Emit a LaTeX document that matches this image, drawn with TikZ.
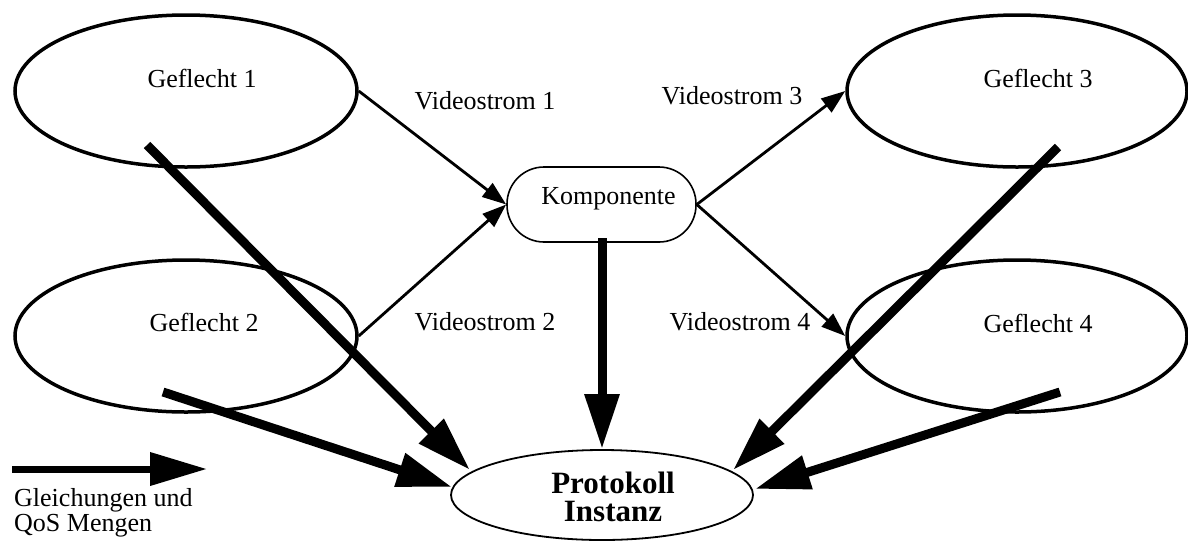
\documentclass[tikz,border=0pt]{standalone}
\usepackage{fontspec}
\setmainfont{Liberation Serif}
\usetikzlibrary{arrows.meta,shapes.geometric}
\begin{document}
\begin{tikzpicture}[x=1pt,y=-1pt,
  geflecht/.style={draw,ellipse,line width=3.5pt,minimum width=342pt,minimum height=152pt,inner sep=0pt},
  lbl/.style={inner sep=0pt,font=\fontsize{26}{30}\selectfont},
  thin/.style={line width=2.8pt,-{Triangle[length=24pt,width=17pt]}},
  thick/.style={line width=9pt,-{Triangle[length=55pt,width=33pt]}}]
\useasboundingbox (0,0) rectangle (1188,542);
% nodes
\node[geflecht] (g1) at (186,91) {};
\node[geflecht] (g2) at (186,336) {};
\node[geflecht,minimum width=340pt] (g3) at (1017,91) {};
\node[geflecht,minimum width=340pt] (g4) at (1017,336) {};
\node[lbl] (g1t) at (202,78) {Geflecht 1};
\node[lbl] (g2t) at (204,322) {Geflecht 2};
\node[lbl] (g3t) at (1038,78) {Geflecht 3};
\node[lbl] (g4t) at (1038,323) {Geflecht 4};
\node[draw,rectangle,rounded corners=37pt,line width=1.6pt,minimum width=189pt,minimum height=75pt,inner sep=0pt] (k) at (601.5,204.5) {};
\node[lbl,anchor=base] (kt) at (608.5,204) {Komponente};
\node[draw,ellipse,line width=1.8pt,minimum width=302pt,minimum height=90pt,inner sep=0pt] (p) at (602,495) {};
\node[inner sep=0pt,align=center,font=\fontsize{31}{28}\selectfont\bfseries] (pt) at (613,497) {Protokoll\\Instanz};
% labels
\node[lbl] (v1) at (485,101) {Videostrom 1};
\node[lbl] (v2) at (485,322) {Videostrom 2};
\node[lbl] (v3) at (732,96) {Videostrom 3};
\node[lbl] (v4) at (740,322) {Videostrom 4};
% thin arrows
\draw[thin] (g1.east) -- (k.west);
\draw[thin] (g2.east) -- (k.west);
\draw[thin] (k.east) -- (g3.west);
\draw[thin] (k.east) -- (g4.west);
% thick arrows
\coordinate (s1) at (147,145);
\coordinate (s2) at (163,392);
\coordinate (s3) at (602,238);
\coordinate (s4) at (1058,147);
\coordinate (s5) at (1060,392);
\coordinate (t1) at (470,470);
\coordinate (t2) at (452,487);
\coordinate (t4) at (733,470);
\coordinate (t5) at (755,489);
\draw[thick] (s1) -- (t1);
\draw[thick] (s2) -- (t2);
\draw[thick] (s3) -- (p.north);
\draw[thick] (s4) -- (t4);
\draw[thick] (s5) -- (t5);
% legend
\coordinate (l1) at (12,469);
\coordinate (l2) at (207,469);
\draw[line width=7pt,-{Triangle[length=57pt,width=32pt]}] (l1) -- (l2);
\node[lbl,anchor=base west] (lt1) at (14,506) {Gleichungen und};
\node[lbl,anchor=base west] (lt2) at (14,531) {QoS Mengen};
\end{tikzpicture}
\end{document}
